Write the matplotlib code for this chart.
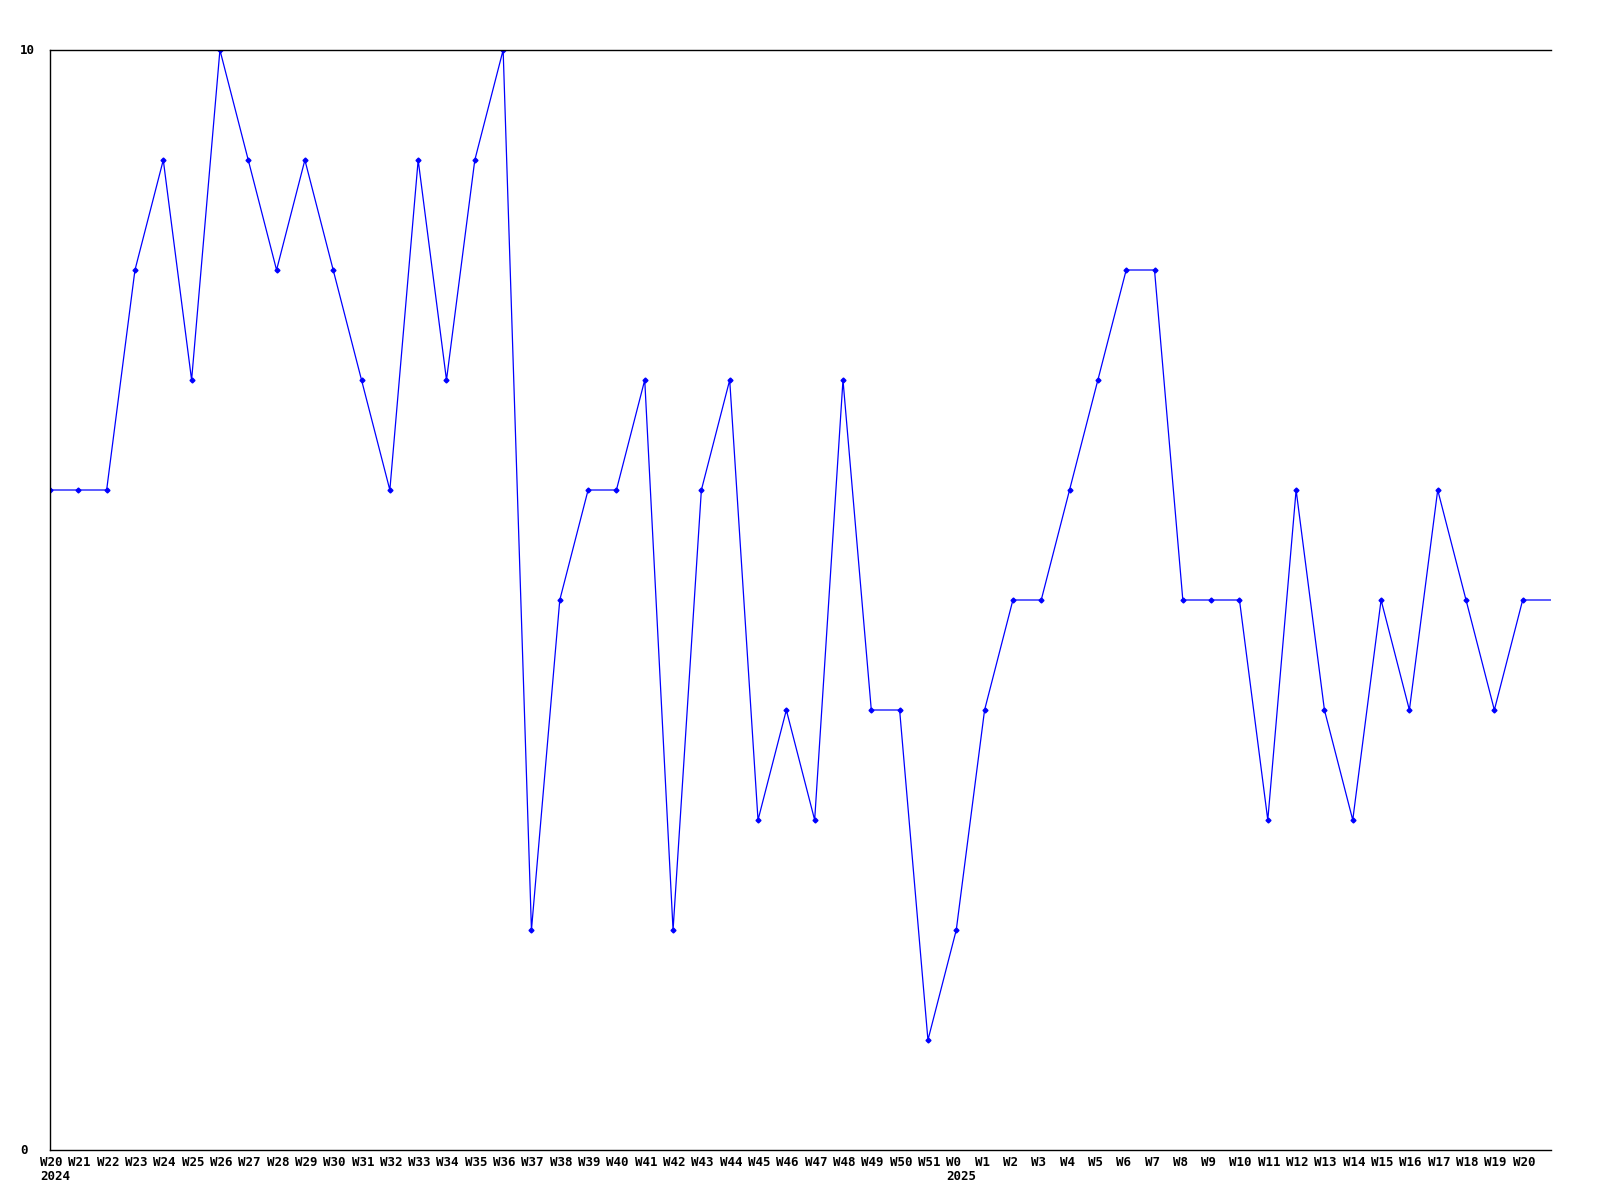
import matplotlib.pyplot as plt
from matplotlib.transforms import ScaledTranslation, blended_transform_factory

weeks = ["W20", "W21", "W22", "W23", "W24", "W25", "W26", "W27", "W28", "W29",
         "W30", "W31", "W32", "W33", "W34", "W35", "W36", "W37", "W38", "W39",
         "W40", "W41", "W42", "W43", "W44", "W45", "W46", "W47", "W48", "W49",
         "W50", "W51", "W0", "W1", "W2", "W3", "W4", "W5", "W6", "W7",
         "W8", "W9", "W10", "W11", "W12", "W13", "W14", "W15", "W16", "W17",
         "W18", "W19", "W20", "W21"]
years = {0: "2024", 32: "2025"}
values = [6, 6, 6, 8, 9, 7, 10, 9, 8, 9,
          8, 7, 6, 9, 7, 9, 10, 2, 5, 6,
          6, 7, 2, 6, 7, 3, 4, 3, 7, 4,
          4, 1, 2, 4, 5, 5, 6, 7, 8, 8,
          5, 5, 5, 3, 6, 4, 3, 5, 4, 6,
          5, 4, 5, 5]

FONT = dict(family="DejaVu Sans Mono", fontweight="bold", fontsize=9)

fig = plt.figure(figsize=(16, 12), dpi=100)
ax = fig.add_axes([50 / 1600, 50 / 1200, 1501 / 1600, 1100 / 1200])

x = list(range(len(values)))
ax.plot(x, values, color="#0000ff", linewidth=0.9, marker="D", markersize=2.5,
        markevery=list(range(len(values) - 1)))

ax.set_xlim(0, len(values) - 1)
ax.set_ylim(0, 10)
ax.spines["right"].set_visible(False)
for s in ("left", "top", "bottom"):
    ax.spines[s].set_linewidth(1.0)
ax.set_xticks([])
ax.set_yticks([])

# y labels at the left edge
for v in (0, 10):
    ax.text(20 / 1600, v, str(v), transform=blended_transform_factory(fig.transFigure, ax.transData),
            ha="left", va="center", **FONT)

# week / year labels, left-aligned 10 px before each point
trans = ax.get_xaxis_transform() + ScaledTranslation(-10 / 100, 0, fig.dpi_scale_trans)
for i, w in enumerate(weeks[:-1]):
    ax.text(i, 0, w, transform=trans + ScaledTranslation(0, -12 / 100, fig.dpi_scale_trans),
            ha="left", va="center", **FONT)
    if i in years:
        ax.text(i, 0, years[i], transform=trans + ScaledTranslation(0, -27 / 100, fig.dpi_scale_trans),
                ha="left", va="center", **FONT)

fig.savefig("out.png", dpi=100)
